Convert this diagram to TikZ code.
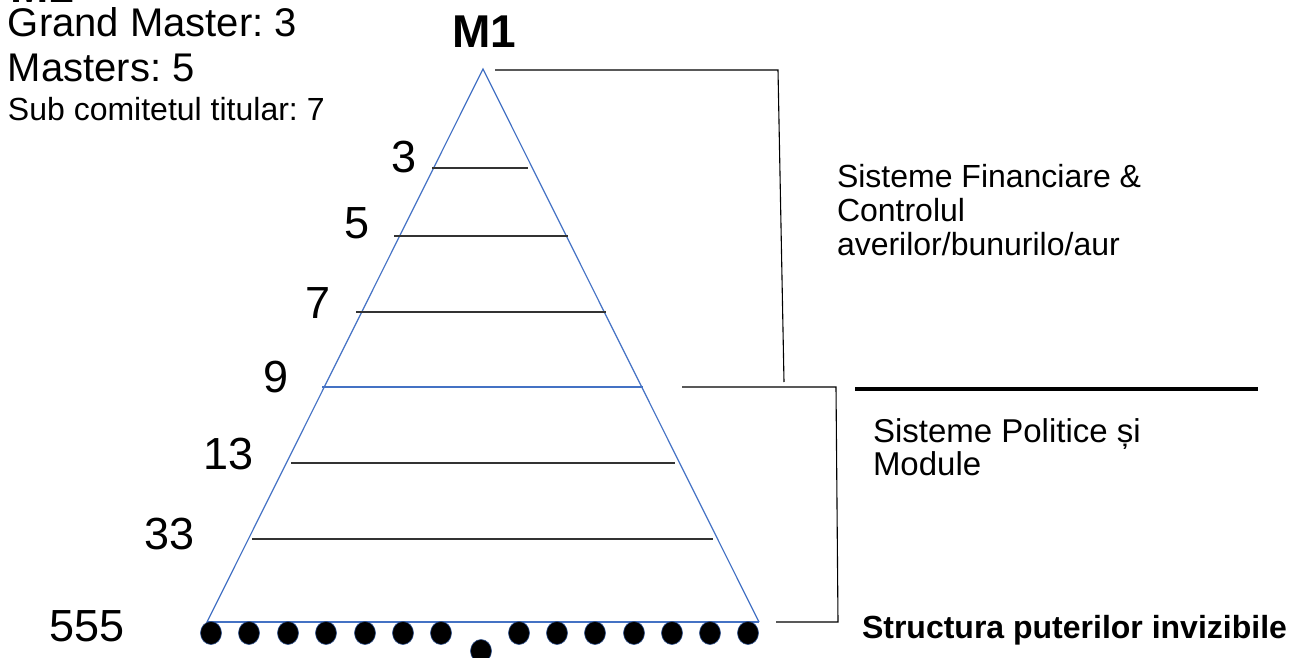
\documentclass[tikz,border=0pt]{standalone}
\usepackage{fontspec}
\setmainfont{Liberation Sans}
\usetikzlibrary{shapes.geometric}
\definecolor{triblue}{HTML}{4472C4}
\definecolor{linegray}{HTML}{333333}
\definecolor{dotedge}{HTML}{2F528F}
\frenchspacing
\begin{document}
\begin{tikzpicture}[x=1pt,y=-1pt,
  txt/.style={inner sep=0pt, outer sep=0pt, anchor=base west},
  big/.style={txt, font=\fontsize{40}{44}\selectfont},
  mid/.style={txt, font=\fontsize{32}{36}\selectfont},
  num/.style={txt, font=\fontsize{45}{48}\selectfont},
  ttl/.style={txt, font=\bfseries\fontsize{46}{50}\selectfont},
  edge/.style={draw=triblue, line width=1.2pt},
  level/.style={draw=linegray, line width=1.2pt},
  bracket/.style={draw=black, line width=1.1pt},
  dotmark/.style={ellipse, fill=black, draw=dotedge, line width=0.6pt, minimum width=21pt, minimum height=23pt, inner sep=0pt}
]
\useasboundingbox (0,0) rectangle (1291,658);

% titles
\node[ttl] (m1cut) at (10,3) {M1};
\node[ttl] (m1) at (452,48) {M1};
\node[big] (gm) at (8,37) {Grand Master: 3};
\node[big] (ms) at (8,82) {Masters: 5};
\node[mid] (sub) at (8,121) {Sub comitetul titular: 7};

% pyramid
\coordinate (apex) at (483,69);
\coordinate (bl) at (207,622);
\coordinate (br) at (759,622);
\path[edge] (bl) -- (apex) -- (br);
\path[edge] (bl) -- (br);

% level lines
\coordinate (l1a) at (432,168); \coordinate (l1b) at (528,168);
\coordinate (l2a) at (394,236); \coordinate (l2b) at (568,236);
\coordinate (l3a) at (356,312); \coordinate (l3b) at (606,312);
\coordinate (l4a) at (322,387); \coordinate (l4b) at (643,387);
\coordinate (l5a) at (291,463); \coordinate (l5b) at (675,463);
\coordinate (l6a) at (252,539); \coordinate (l6b) at (713,539);
\path[level] (l1a) -- (l1b);
\path[level] (l2a) -- (l2b);
\path[level] (l3a) -- (l3b);
\path[edge] (l4a) -- (l4b);
\path[level] (l5a) -- (l5b);
\path[level] (l6a) -- (l6b);

% level numbers
\node[num] (n3) at (391,173) {3};
\node[num] (n5) at (344,238) {5};
\node[num] (n7) at (305,318) {7};
\node[num] (n9) at (263,392) {9};
\node[num] (n13) at (203,469) {13};
\node[num] (n33) at (144,549) {33};
\node[num] (n555) at (49,641) {555};

% dots
\foreach \x [count=\i] in {211,249,288,326,365,403,441,519,557,595,634,672,710,748}
  \node[dotmark] (d\i) at (\x,633) {};
\node[dotmark] (dmid) at (481,651) {};

% brackets
\coordinate (b1a) at (495,70);
\coordinate (b1b) at (778,70);
\coordinate (b1c) at (784,382);
\path[bracket] (b1a) -- (b1b) -- (b1c);
\coordinate (b2a) at (682,387);
\coordinate (b2b) at (836,387);
\coordinate (b2c) at (838,622);
\coordinate (b2d) at (776,622);
\path[bracket] (b2a) -- (b2b) -- (b2c) -- (b2d);

% thick rule
\coordinate (ta) at (855,389);
\coordinate (tb) at (1258,389);
\draw[line width=4pt] (ta) -- (tb);

% right texts
\node[mid] (f1) at (837,188) {Sisteme Financiare \&};
\node[mid] (f2) at (837,222) {Controlul};
\node[mid] (f3) at (837,255) {averilor/bunurilo/aur};
\node[txt, font=\fontsize{33}{36}\selectfont] (p1) at (873,442) {Sisteme Politice și};
\node[txt, font=\fontsize{33}{36}\selectfont] (p2) at (873,475) {Module};
\node[txt, font=\bfseries\fontsize{32}{35}\selectfont] (st) at (862,638) {Structura puterilor invizibile};
\end{tikzpicture}
\end{document}
